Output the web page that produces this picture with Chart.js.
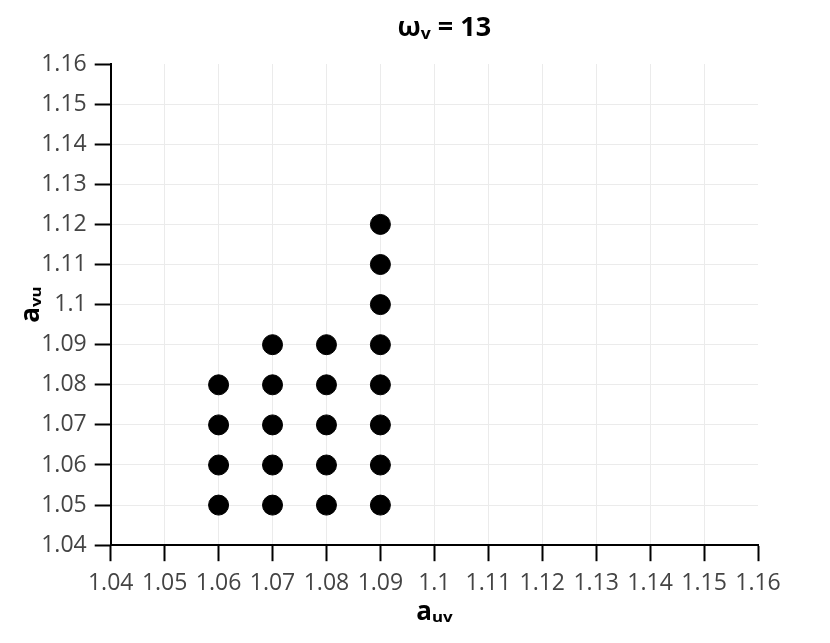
<!DOCTYPE html>
<html>
<head>
<meta charset="utf-8">
<script src="https://cdn.jsdelivr.net/npm/chart.js@4"></script>
<style>
  html, body { margin: 0; padding: 0; background: #fff; }
  #wrap { width: 830px; height: 643px; }
</style>
</head>
<body>
<div id="wrap"><canvas id="grafico" width="830" height="643"></canvas></div>
<script>
// puntos del barrido (a_uv, a_vu) para omega_v = 13
const auvValues = [
  1.06, 1.06, 1.06, 1.06,
  1.07, 1.07, 1.07, 1.07, 1.07,
  1.08, 1.08, 1.08, 1.08, 1.08,
  1.09, 1.09, 1.09, 1.09, 1.09, 1.09, 1.09, 1.09
];
const avuValues = [
  1.05, 1.06, 1.07, 1.08,
  1.05, 1.06, 1.07, 1.08, 1.09,
  1.05, 1.06, 1.07, 1.08, 1.09,
  1.05, 1.06, 1.07, 1.08, 1.09, 1.10, 1.11, 1.12
];
const ejeMin = 1.04;
const ejeMax = 1.16;
const paso = 0.01;

const titulo = 'ωᵥ = 13';
const tituloX = 'aᵤᵥ';
const tituloY = 'aᵥᵤ';

const puntos = auvValues.map((x, i) => ({ x: x, y: avuValues[i] }));

const fuente = "'Open Sans', 'Noto Sans', 'DejaVu Sans', sans-serif";

function colorGrid(ctx){
  const n = ctx.scale.ticks.length;
  if (ctx.index === 0 || ctx.index === n - 1) return 'rgba(0,0,0,0)';
  return '#ebebeb';
}

function formatoTick(v){
  return String(Number(Number(v).toFixed(2)));
}

function ejeConfig(texto, relleno){
  return {
    type: 'linear',
    min: ejeMin,
    max: ejeMax,
    ticks: {
      stepSize: paso,
      autoSkip: false,
      maxRotation: 0,
      callback: formatoTick,
      font: { family: fuente, size: 23 },
      color: '#444',
      padding: 8
    },
    grid: {
      color: colorGrid,
      lineWidth: 1,
      tickColor: '#000',
      tickWidth: 2,
      tickLength: 16
    },
    border: { color: '#000', width: 2 },
    title: {
      display: true,
      text: texto,
      font: { family: fuente, size: 26, weight: 'bold' },
      color: '#000',
      padding: relleno
    }
  };
}

// titulo centrado sobre el area del grafico (un poco a la derecha, como el original)
const tituloPlugin = {
  id: 'tituloArriba',
  afterDraw(chart){
    const c = chart.ctx;
    const area = chart.chartArea;
    c.save();
    c.font = `bold 27px ${fuente}`;
    c.fillStyle = '#000';
    c.textAlign = 'center';
    c.textBaseline = 'middle';
    c.fillText(titulo, (area.left + area.right) / 2 + 10, 28);
    c.restore();
  }
};

const ctx = document.getElementById('grafico').getContext('2d');
new Chart(ctx, {
  type: 'scatter',
  data: {
    datasets: [{
      label: titulo,
      data: puntos,
      backgroundColor: '#000',
      borderColor: '#000',
      pointRadius: 10,
      pointHoverRadius: 10
    }]
  },
  options: {
    responsive: false,
    animation: false,
    layout: { padding: { top: 64, right: 72, bottom: 15, left: 14 } },
    scales: {
      x: ejeConfig(tituloX, { top: -8, bottom: 0 }),
      y: ejeConfig(tituloY, { top: 2, bottom: -14 })
    },
    plugins: {
      legend: { display: false },
      tooltip: { enabled: false },
      title: { display: false }
    }
  },
  plugins: [tituloPlugin]
});
</script>
</body>
</html>
